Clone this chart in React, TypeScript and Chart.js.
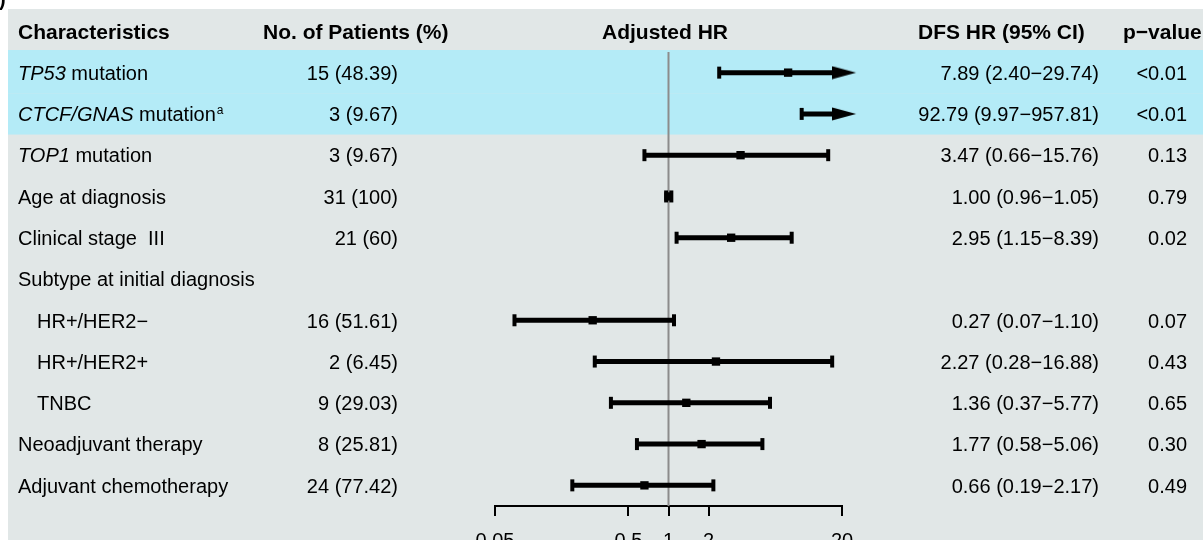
import React, { useEffect, useRef } from "react";
import { Chart, registerables } from "chart.js";

Chart.register(...registerables);

const FONT = '"Liberation Sans", Arial, Helvetica, sans-serif';

// ---- data ----
const headerLabels = ["Characteristics", "No. of Patients (%)", "Adjusted HR", "DFS HR (95% CI)", "p\u2212value"];
const charItalic = ["TP53", "CTCF/GNAS", "TOP1", "", "", "", "", "", "", "", ""];
const charText = [
  " mutation",
  " mutation",
  " mutation",
  "Age at diagnosis",
  "Clinical stage  III",
  "Subtype at initial diagnosis",
  "HR+/HER2\u2212",
  "HR+/HER2+",
  "TNBC",
  "Neoadjuvant therapy",
  "Adjuvant chemotherapy",
];
const charSup = ["", "a", "", "", "", "", "", "", "", "", ""];
const charIndent = [false, false, false, false, false, false, true, true, true, false, false];
const highlighted = [true, true, false, false, false, false, false, false, false, false, false];
const patients = ["15 (48.39)", "3 (9.67)", "3 (9.67)", "31 (100)", "21 (60)", "", "16 (51.61)", "2 (6.45)", "9 (29.03)", "8 (25.81)", "24 (77.42)"];
const hr: (number | null)[] = [7.89, 92.79, 3.47, 1.0, 2.95, null, 0.27, 2.27, 1.36, 1.77, 0.66];
const lower: (number | null)[] = [2.4, 9.97, 0.66, 0.96, 1.15, null, 0.07, 0.28, 0.37, 0.58, 0.19];
const upper: (number | null)[] = [29.74, 957.81, 15.76, 1.05, 8.39, null, 1.1, 16.88, 5.77, 5.06, 2.17];
const pValues = ["<0.01", "<0.01", "0.13", "0.79", "0.02", "", "0.07", "0.43", "0.65", "0.30", "0.49"];
const tickValues = [0.05, 0.5, 1, 2, 20];
const AXIS_MIN = 0.05;
const AXIS_MAX = 20;
const ARROW_TIP = 25.5;
const REF_VALUE = 1;

// ---- layout (pixels) ----
const COL = {
  charLeft: 18,
  charIndentLeft: 37,
  patHeaderLeft: 263,
  patRight: 398,
  adjHeaderLeft: 602,
  hrHeaderLeft: 918,
  hrRight: 1099,
  pHeaderLeft: 1123,
  pRight: 1187,
};

const fmt = (v: number) => v.toFixed(2);
const hrText = hr.map((v, i) =>
  v == null ? "" : `${fmt(v)} (${fmt(lower[i] as number)}\u2212${fmt(upper[i] as number)})`
);

const tablePlugin = {
  id: "forestTable",
  beforeDraw(chart: any) {
    const ctx: CanvasRenderingContext2D = chart.ctx;
    const ys = chart.scales.y;
    const W = chart.width;
    const H = chart.height;
    ctx.save();
    ctx.fillStyle = "#e1e7e7";
    ctx.fillRect(8, 9, W - 8, H - 9);

    const step = Math.abs(ys.getPixelForValue(2) - ys.getPixelForValue(1));
    ctx.fillStyle = "#b4ebf7";
    highlighted.forEach((h, i) => {
      if (!h) return;
      const cy = ys.getPixelForValue(i + 1);
      const top = i === 0 ? cy - step / 2 - 2 : cy - step / 2;
      ctx.fillRect(8, top, W - 8, cy + step / 2 - top);
    });

    // panel label remnant
    ctx.fillStyle = "#000";
    ctx.font = `bold 20px ${FONT}`;
    ctx.textAlign = "left";
    ctx.textBaseline = "alphabetic";
    ctx.fillText(")", -1, 6);

    // header
    const hy = ys.getPixelForValue(0) + 8;
    ctx.font = `bold 21px ${FONT}`;
    ctx.fillText(headerLabels[0], COL.charLeft, hy);
    ctx.fillText(headerLabels[1], COL.patHeaderLeft, hy);
    ctx.fillText(headerLabels[2], COL.adjHeaderLeft, hy);
    ctx.fillText(headerLabels[3], COL.hrHeaderLeft, hy);
    ctx.fillText(headerLabels[4], COL.pHeaderLeft, hy);

    // rows
    charText.forEach((t, i) => {
      const by = ys.getPixelForValue(i + 1) + 7.3;
      let x = charIndent[i] ? COL.charIndentLeft : COL.charLeft;
      ctx.textAlign = "left";
      if (charItalic[i]) {
        ctx.font = `italic 20px ${FONT}`;
        ctx.fillText(charItalic[i], x, by);
        x += ctx.measureText(charItalic[i]).width;
      }
      ctx.font = `20px ${FONT}`;
      ctx.fillText(t, x, by);
      x += ctx.measureText(t).width;
      if (charSup[i]) {
        ctx.font = `12px ${FONT}`;
        ctx.fillText(charSup[i], x + 1, by - 7);
      }
      ctx.font = `20px ${FONT}`;
      ctx.textAlign = "right";
      if (patients[i]) ctx.fillText(patients[i], COL.patRight, by);
      if (hrText[i]) ctx.fillText(hrText[i], COL.hrRight, by);
      if (pValues[i]) ctx.fillText(pValues[i], COL.pRight, by);
    });
    ctx.restore();
  },
};

export default function App() {
  const ref = useRef<HTMLCanvasElement>(null);

  useEffect(() => {
    const canvas = ref.current;
    if (!canvas) return;

    const arrow = document.createElement("canvas");
    arrow.width = 48;
    arrow.height = 14;
    const a = arrow.getContext("2d")!;
    a.fillStyle = "#000";
    a.beginPath();
    a.moveTo(0, 0.5);
    a.lineTo(24, 7);
    a.lineTo(0, 13.5);
    a.closePath();
    a.fill();

    const rows = hr
      .map((v, i) => ({ v, lo: lower[i], hi: upper[i], y: i + 1 }))
      .filter((r) => r.v != null) as { v: number; lo: number; hi: number; y: number }[];

    const ciSets = rows.map((r) => ({
      data: [
        { x: Math.max(r.lo, AXIS_MIN), y: r.y },
        { x: Math.min(r.hi, AXIS_MAX), y: r.y },
      ],
      showLine: true,
      borderColor: "#000",
      borderWidth: 5,
      pointRadius: 0,
      clip: false as any,
      order: 5,
    }));

    const caps: { x: number; y: number }[] = [];
    rows.forEach((r) => {
      if (r.lo >= AXIS_MIN) caps.push({ x: r.lo, y: r.y });
      if (r.hi <= AXIS_MAX) caps.push({ x: r.hi, y: r.y });
    });

    const squares = rows
      .filter((r) => r.v >= AXIS_MIN && r.v <= AXIS_MAX)
      .map((r) => ({ x: r.v, y: r.y }));

    const arrows = rows.filter((r) => r.hi > AXIS_MAX).map((r) => ({ x: ARROW_TIP, y: r.y }));

    const chart = new Chart(canvas, {
      type: "scatter",
      data: {
        datasets: [
          {
            data: [
              { x: REF_VALUE, y: 0.5 },
              { x: REF_VALUE, y: charText.length + 0.5 },
            ],
            showLine: true,
            borderColor: "#8c8c8c",
            borderWidth: 2,
            pointRadius: 0,
            order: 10,
          } as any,
          ...(ciSets as any[]),
          {
            data: caps,
            pointStyle: "line",
            rotation: 90,
            radius: 6,
            borderWidth: 4,
            borderColor: "#000",
            backgroundColor: "#000",
            clip: false,
            order: 3,
          } as any,
          {
            data: squares,
            pointStyle: "rect",
            radius: 5.9,
            borderWidth: 0,
            backgroundColor: "#000",
            borderColor: "#000",
            clip: false,
            order: 1,
          } as any,
          {
            data: arrows,
            pointStyle: arrow,
            radius: 16,
            borderWidth: 0,
            clip: false,
            order: 2,
          } as any,
        ],
      },
      options: {
        animation: false,
        responsive: false,
        devicePixelRatio: 1,
        events: [],
        layout: { padding: { left: 495, right: 1203 - 842, top: 52, bottom: 0 } },
        plugins: { legend: { display: false }, tooltip: { enabled: false } },
        scales: {
          x: {
            type: "logarithmic",
            position: "bottom",
            min: AXIS_MIN,
            max: AXIS_MAX,
            afterBuildTicks: (s: any) => {
              s.ticks = tickValues.map((v) => ({ value: v }));
            },
            afterFit: (s: any) => {
              s.height = 34;
            },
            grid: {
              display: true,
              drawOnChartArea: false,
              drawTicks: true,
              tickLength: 10,
              color: "#000",
              lineWidth: 2,
            },
            border: { display: true, color: "#000", width: 2 },
            ticks: {
              autoSkip: false,
              maxRotation: 0,
              padding: 13,
              color: "#000",
              font: { family: FONT, size: 20 },
              callback: (v: any) => String(v),
            },
          } as any,
          y: {
            type: "linear",
            min: 0.5,
            max: charText.length + 0.5,
            reverse: true,
            display: false,
          },
        },
      },
      plugins: [tablePlugin],
    });

    return () => chart.destroy();
  }, []);

  return (
    <div style={{ position: "absolute", left: 0, top: 0, width: 1203, height: 540, overflow: "hidden" }}>
      <canvas ref={ref} width={1203} height={540} style={{ display: "block" }} />
    </div>
  );
}
